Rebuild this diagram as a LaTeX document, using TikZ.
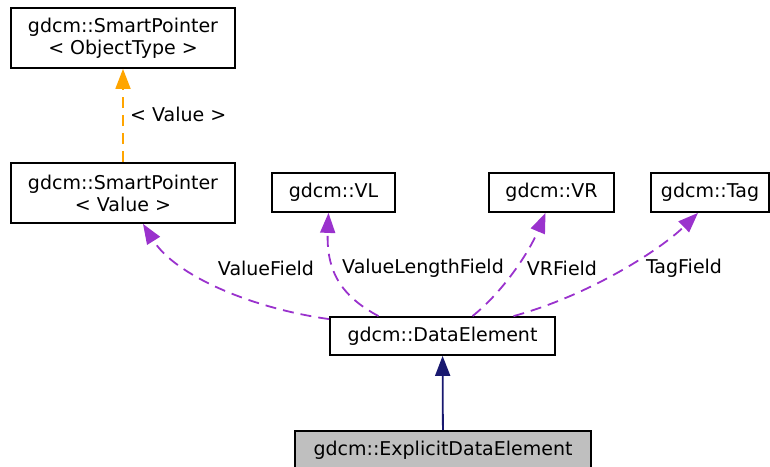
\documentclass[tikz,border=0pt]{standalone}
\usepackage{fontspec}
\setmainfont{DejaVu Sans}
\usetikzlibrary{arrows.meta}
\definecolor{edgepurple}{HTML}{9A32CD}
\definecolor{edgeorange}{HTML}{FFA500}
\definecolor{edgenavy}{HTML}{191970}
\tikzset{
	classbox/.style={draw, line width=1.8pt, align=center, inner sep=0pt, minimum height=39},
	usedge/.style={edgepurple, line width=1.8pt, dash pattern=on 11pt off 7pt, -{Triangle[length=20pt, width=15pt]}},
	tmpledge/.style={edgeorange, line width=1.8pt, dash pattern=on 11pt off 7pt, -{Triangle[length=20pt, width=15pt]}},
	inhedge/.style={edgenavy, line width=1.8pt, -{Triangle[length=20pt, width=15pt]}},
	edgelabel/.style={inner sep=0pt}
}
\begin{document}
\begin{tikzpicture}[x=1pt, y=-1pt, font=\fontsize{19}{22}\selectfont]
		\useasboundingbox (0, 0) rectangle (770, 466);
		
		% Templates
		\node[classbox, minimum width=224, minimum height=60] (spobj) at (123, 38) {gdcm::SmartPointer\\< ObjectType >};
		\node[classbox, minimum width=224, minimum height=60] (spval) at (123, 193) {gdcm::SmartPointer\\< Value >};
		
		% Member types
		\node[classbox, minimum width=123] (vl) at (333.5, 192.5) {gdcm::VL};
		\node[classbox, minimum width=125] (vr) at (551.5, 192.5) {gdcm::VR};
		\node[classbox, minimum width=118] (tag) at (710, 192.5) {gdcm::Tag};
		
		% Classes
		\node[classbox, minimum width=225, minimum height=38] (dataelem) at (442.5, 336) {gdcm::DataElement};
		\node[classbox, minimum width=296, minimum height=38, fill=gray!50] (explicit) at (443, 450) {gdcm::ExplicitDataElement};
		
		% Template instance
		\draw[tmpledge] (spval.north) -- (spobj.south);
		\node[edgelabel, anchor=west] (lblval) at (130, 114) {< Value >};
		
		% Members
		\draw[usedge] ([yshift=-3]dataelem.north west) .. controls (250, 308) and (175, 275) .. ([xshift=20]spval.south);
		\draw[usedge] ([xshift=-64]dataelem.north) .. controls (345, 298) and (326, 275) .. ([xshift=-5]vl.south);
		\draw[usedge] ([xshift=30]dataelem.north) .. controls (505, 290) and (530, 250) .. ([xshift=-6]vr.south);
		\draw[usedge] ([xshift=71]dataelem.north) .. controls (590, 295) and (660, 250) .. ([xshift=-12]tag.south);
		
		\node[edgelabel] (lblvf) at (266, 268) {ValueField};
		\node[edgelabel] (lblvlf) at (423, 268) {ValueLengthField};
		\node[edgelabel] (lblvrf) at (562, 268) {VRField};
		\node[edgelabel] (lbltf) at (684, 268) {TagField};
		
		% Inheritance
		\draw[inhedge] (explicit) -- (dataelem);
	\end{tikzpicture}
\end{document}
